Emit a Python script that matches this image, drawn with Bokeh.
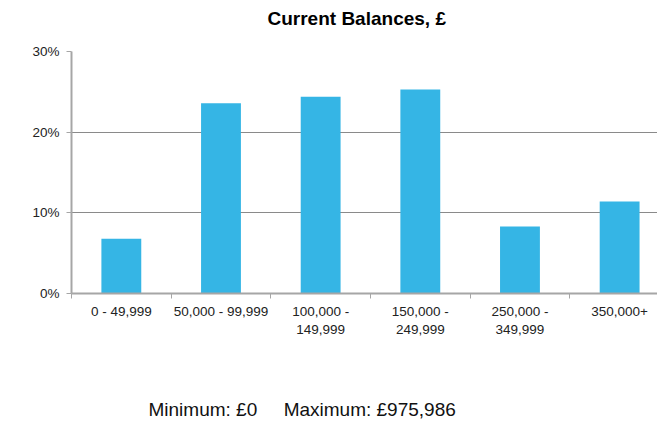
from bokeh.plotting import figure
from bokeh.models import FixedTicker, Range1d, Title
from bokeh.embed import file_html
from bokeh.resources import INLINE

categories = ["0 - 49,999", "50,000 - 99,999", "100,000 -\n149,999",
              "150,000 -\n249,999", "250,000 -\n349,999", "350,000+"]
shares = [6.8, 23.6, 24.4, 25.3, 8.3, 11.4]
y_ticks = [0, 10, 20, 30]
y_tick_labels = ["0%", "10%", "20%", "30%"]
title_text = "Current Balances, £"
footer_min = "Minimum: £0"
footer_max = "Maximum: £975,986"

FONT = "Liberation Sans"
BAR = "#35B5E5"

W, H = 657, 448
p = figure(width=W, height=H, output_backend="svg", toolbar_location=None,
           x_range=Range1d(0, 5.88), y_range=Range1d(0, 30),
           min_border_left=71, min_border_right=0, min_border_top=51,
           min_border_bottom=155, title=None)
p.outline_line_color = None
p.background_fill_color = "white"
p.border_fill_color = "white"

centers = [i + 0.5 for i in range(len(categories))]
p.vbar(x=centers, top=shares, width=0.4, bottom=0, fill_color=BAR,
       line_color=None)

# x axis
p.xaxis.ticker = FixedTicker(ticks=centers,
                             minor_ticks=list(range(len(categories) + 1)))
p.xaxis.major_label_overrides = {c: lab for c, lab in zip(centers, categories)}
p.xaxis.major_tick_line_color = None
p.xaxis.minor_tick_line_color = "#a6a6a6"
p.xaxis.minor_tick_in = 0
p.xaxis.minor_tick_out = 5
p.xaxis.minor_tick_line_width = 1
p.xaxis.axis_line_color = "#a6a6a6"
p.xaxis.axis_line_width = 2
p.xaxis.major_label_text_font = FONT
p.xaxis.major_label_text_font_size = "13.5px"
p.xaxis.major_label_text_color = "#222222"
p.xaxis.major_label_standoff = 4

# y axis
p.yaxis.ticker = FixedTicker(ticks=y_ticks)
p.yaxis.major_label_overrides = {t: l for t, l in zip(y_ticks, y_tick_labels)}
p.yaxis.axis_line_color = "#a6a6a6"
p.yaxis.axis_line_width = 2
p.yaxis.major_tick_line_color = "#a6a6a6"
p.yaxis.major_tick_in = 0
p.yaxis.major_tick_out = 5
p.yaxis.minor_tick_line_color = None
p.yaxis.major_label_text_font = FONT
p.yaxis.major_label_text_font_size = "13.5px"
p.yaxis.major_label_text_color = "#222222"
p.yaxis.major_label_standoff = 7

p.xgrid.grid_line_color = None
p.ygrid.grid_line_color = "#8a8a8a"
p.ygrid.grid_line_width = 1.2

# spacer between frame and title
top_spacer = Title(text="\u00a0", text_font_size="1px", standoff=20)
p.add_layout(top_spacer, "above")
title = Title(text=title_text, text_font=FONT, text_font_size="19px",
              text_font_style="bold", text_color="#000000", align="left",
              offset=196, standoff=0)
p.add_layout(title, "above")

# spacer between x axis and footer
bottom_spacer = Title(text="\u00a0", text_font_size="1px", standoff=54)
p.add_layout(bottom_spacer, "below")
gap = "\u00a0" * 5
footer = Title(text=footer_min + gap + footer_max, text_font=FONT,
               text_font_size="19px", text_font_style="normal",
               text_color="#111111", align="left", offset=77, standoff=0)
p.add_layout(footer, "below")

open("out.html", "w").write(file_html(p, INLINE))
